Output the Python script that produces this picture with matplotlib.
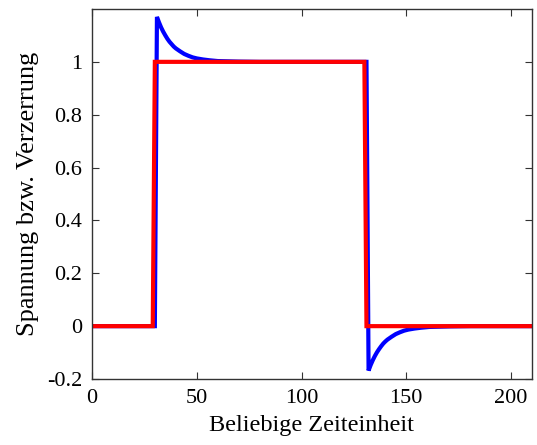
import matplotlib.pyplot as plt

plt.rcParams['font.family'] = ['Liberation Serif', 'DejaVu Serif']
plt.rcParams['axes.unicode_minus'] = False

# ideal pulse
t_puls = [0, 29, 30, 130, 131, 210]
u_puls = [0, 0, 1, 1, 0, 0]

# distorted signal (overshoot at both edges)
t_verz = [0, 30, 31, 32, 33, 34, 35, 36, 37, 38, 39, 40, 42, 44, 46, 48, 50, 53, 56, 60, 65, 70, 80,
          131, 132, 133, 134, 135, 136, 137, 138, 139, 140, 141, 143, 145, 147, 149, 151, 154, 157, 161, 166, 171, 181, 210]
u_verz = [0, 0, 1.170, 1.149, 1.130, 1.114, 1.100, 1.087, 1.076, 1.067, 1.058, 1.051, 1.040, 1.030, 1.023, 1.017,
          1.013, 1.009, 1.006, 1.003, 1.002, 1.001, 1.0,
          1.0, -0.168, -0.147, -0.129, -0.113, -0.099, -0.087, -0.076, -0.066, -0.058, -0.051, -0.040, -0.030,
          -0.023, -0.017, -0.013, -0.009, -0.006, -0.003, -0.002, -0.001, 0.0, 0.0]

fig = plt.figure(figsize=(5.37, 4.45), dpi=100)
ax = fig.add_axes([0.1713, 0.1483, 0.8194, 0.8315])

ax.plot(t_verz, u_verz, color='#0000ff', lw=3, solid_joinstyle='miter')
ax.plot(t_puls, u_puls, color='#ff0000', lw=3, solid_joinstyle='miter')

ax.set_xlim(0, 210)
ax.set_ylim(-0.2, 1.2)
ax.set_xticks([0, 50, 100, 150, 200])
ax.set_yticks([-0.2, 0, 0.2, 0.4, 0.6, 0.8, 1])
ax.set_yticklabels(['-0.2', '0', '0.2', '0.4', '0.6', '0.8', '1'])
ax.tick_params(direction='in', top=True, right=True, length=5, width=0.8,
               labelsize=16, color='#333333', pad=7)
for s in ax.spines.values():
    s.set_color('#333333')
    s.set_linewidth(1)

ax.set_xlabel('Beliebige Zeiteinheit', fontsize=17.5, labelpad=5)
ax.set_ylabel('Spannung bzw. Verzerrung', fontsize=19, labelpad=6)

fig.savefig('out.png', dpi=100)
